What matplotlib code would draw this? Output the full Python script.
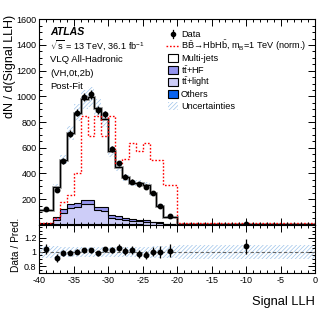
import numpy as np
import matplotlib
matplotlib.use('Agg')
import matplotlib.pyplot as plt
from matplotlib.patches import Rectangle
from matplotlib.ticker import MultipleLocator, FixedLocator

plt.rcParams['font.family'] = ['Liberation Sans', 'DejaVu Sans']
plt.rcParams['mathtext.fontset'] = 'custom'
plt.rcParams['mathtext.rm'] = 'Liberation Sans'
plt.rcParams['mathtext.it'] = 'Liberation Sans:italic'
plt.rcParams['mathtext.bf'] = 'Liberation Sans:bold'
plt.rcParams['hatch.linewidth'] = 0.5
plt.rcParams['axes.unicode_minus'] = False

# ---- data ----
bin_edges = [-40, -38, -37, -36, -35, -34, -33, -32, -31, -30, -29, -28,
             -27, -26, -25, -24, -23, -22, -20, 0]
others   = [3, 5, 6, 8, 8, 8, 8, 7, 6, 5, 4, 3, 3, 3, 2, 2, 1, 1, 0.1]
tt_light = [5, 35, 84, 121, 128, 152, 152, 108, 104, 45, 41, 32, 27, 25, 23, 16, 11, 4, 0.2]
tt_hf    = [4, 24, 31, 34, 32, 34, 34, 20, 25, 25, 23, 20, 12, 12, 13, 7, 6, 3, 0.2]
multijet = [104, 230, 387, 554, 706, 784, 801, 778, 692, 498, 383, 314, 283, 285, 272, 222, 129, 56, 4.5]
data     = [121, 270, 498, 710, 874, 998, 1015, 895, 860, 590, 478, 373, 335, 315, 298, 247, 147, 65, 5.4]
data_err = [7.9, 16.5, 22.4, 26.6, 29.7, 31.6, 31.9, 29.9, 29.3, 24.3, 21.9, 19.3, 18.3, 17.7, 17.3, 15.7, 12.1, 5.7, 0.52]
signal   = [12, 50, 175, 234, 404, 847, 691, 847, 691, 847, 482, 516, 639, 573, 639, 508, 508, 312, 12]
unc_rel  = [0.08, 0.08, 0.075, 0.075, 0.075, 0.075, 0.075, 0.075, 0.075, 0.075,
            0.075, 0.075, 0.075, 0.075, 0.075, 0.08, 0.08, 0.085, 0.1]

edges = np.array(bin_edges, dtype=float)
centers = 0.5 * (edges[:-1] + edges[1:])
c_oth = np.array(others)
c_light = c_oth + np.array(tt_light)
c_hf = c_light + np.array(tt_hf)
total = c_hf + np.array(multijet)
unc = np.array(unc_rel)
dat = np.array(data)
derr = np.array(data_err)

W, H = 332, 322
fig = plt.figure(figsize=(W / 100, H / 100), dpi=100)
x0, x1 = 39.3, 315.0
ax = fig.add_axes([x0 / W, 1 - 224.8 / H, (x1 - x0) / W, (224.8 - 19.3) / H])
rax = fig.add_axes([x0 / W, 1 - 273.3 / H, (x1 - x0) / W, (273.3 - 224.8) / H])

col_hf = '#9494ee'
col_light = '#cdcdf8'
col_oth = '#0a64f0'
hatch_col = '#9fc4ea'
sig_ls = (0, (1.2, 1.3))

# stacked histograms
ax.stairs(total, edges, baseline=0, fill=True, facecolor='white', linewidth=0)
ax.stairs(c_hf, edges, baseline=0, fill=True, facecolor=col_hf, linewidth=0)
ax.stairs(c_light, edges, baseline=0, fill=True, facecolor=col_light, linewidth=0)
ax.stairs(c_oth, edges, baseline=0, fill=True, facecolor=col_oth, linewidth=0)
for arr in (c_oth, c_light, c_hf):
    ax.stairs(arr, edges, baseline=None, color='black', linewidth=0.8)

# uncertainty band
ax.stairs(total * (1 + unc), edges, baseline=total * (1 - unc), fill=True,
          facecolor='none', edgecolor=hatch_col, hatch='////////', linewidth=0)
ax.stairs(total, edges, baseline=None, color='#808080', linewidth=2.0, alpha=0.8)
ax.stairs(total, edges, baseline=None, color='black', linewidth=0.8)

# signal
ax.stairs(signal, edges, baseline=None, color='#ff0000', linewidth=1.0,
          linestyle=sig_ls)

# data
ax.errorbar(centers, dat, yerr=derr, fmt='o', color='black', ms=3.2,
            elinewidth=0.9, capsize=0)

ax.set_xlim(-40, 0)
ax.set_ylim(0, 1600)
ax.xaxis.set_major_locator(MultipleLocator(5))
ax.xaxis.set_minor_locator(MultipleLocator(1))
ax.yaxis.set_major_locator(FixedLocator([200, 400, 600, 800, 1000, 1200, 1400, 1600]))
ax.yaxis.set_minor_locator(MultipleLocator(50))
ax.tick_params(axis='x', labelbottom=False)
ax.set_ylabel('dN / d(Signal LLH)', fontsize=9, loc='top')
ax.yaxis.set_label_coords((16 - x0) / (x1 - x0), (224.8 - 15) / (224.8 - 19.3))

# ratio panel
ratio = dat / total
rerr = derr / total
rax.stairs(1 + unc, edges, baseline=1 - unc, fill=True, facecolor='none',
           edgecolor=hatch_col, hatch='////////', linewidth=0)
rax.axhline(1, color='#666666', linestyle=(0, (3, 2)), linewidth=0.8)
rax.errorbar(centers, ratio, yerr=rerr, fmt='o', color='black', ms=3.2,
             elinewidth=0.9, capsize=0)
rax.set_xlim(-40, 0)
rax.set_ylim(0.7, 1.38)
rax.xaxis.set_major_locator(MultipleLocator(5))
rax.xaxis.set_minor_locator(MultipleLocator(1))
rax.yaxis.set_major_locator(FixedLocator([0.8, 1.0, 1.2]))
rax.yaxis.set_minor_locator(MultipleLocator(0.05))
rax.set_yticklabels(['0.8', '1', '1.2'])
rax.set_xlabel('Signal LLH', fontsize=9.3, loc='right', labelpad=8)
rax.set_ylabel('Data / Pred.', fontsize=7.3)
rax.yaxis.set_label_coords((21 - x0) / (x1 - x0), (273.3 - 245) / (273.3 - 224.8))

for a in (ax, rax):
    a.tick_params(which='both', direction='in', top=True, right=True,
                  labelsize=6.5, width=0.7, pad=2)
    a.tick_params(which='major', length=5)
    a.tick_params(which='minor', length=2.5)
    for s in a.spines.values():
        s.set_linewidth(0.8)

# overlay in pixel coordinates for text and legend
ov = fig.add_axes([0, 0, 1, 1], facecolor='none')
ov.set_xlim(0, W)
ov.set_ylim(H, 0)
ov.axis('off')

ov.text(50, 32, 'ATLAS', fontsize=7.6, fontweight='bold', fontstyle='italic', va='center')
ov.text(50, 45, r'$\sqrt{\mathrm{s}}$ = 13 TeV, 36.1 fb$^{-1}$', fontsize=6.6, va='center')
ov.text(50, 59.5, 'VLQ All-Hadronic', fontsize=6.8, va='center')
ov.text(50, 73, '(VH,0t,2b)', fontsize=6.8, va='center')
ov.text(50, 86.5, 'Post-Fit', fontsize=6.8, va='center')

# legend (manual)
leg_labels = ['Data',
              r'$\mathrm{B\bar{B}}\!\rightarrow\!\mathrm{HbH\bar{b}}$, m$_{\mathrm{B}}$=1 TeV (norm.)',
              'Multi-jets', r'$\mathrm{t\bar{t}}$+HF', r'$\mathrm{t\bar{t}}$+light', 'Others',
              'Uncertainties']
leg_y0, leg_dy = 34.0, 12.0
bx0, bw, bh = 167.5, 10.0, 7.5
tx = 181.0
for i, lab in enumerate(leg_labels):
    yy = leg_y0 + i * leg_dy
    ov.text(tx, yy, lab, fontsize=6.6, va='center', ha='left')
    if i == 0:
        ov.plot([bx0 + bw / 2] * 2, [yy - 4, yy + 4], color='black', lw=0.9)
        ov.plot([bx0 + bw / 2], [yy], 'o', color='black', ms=3.0)
    elif i == 1:
        ov.plot([bx0 - 2, bx0 + bw + 2], [yy, yy], color='#ff0000', lw=1.0, linestyle=sig_ls)
    elif i == 6:
        ov.add_patch(Rectangle((bx0, yy - bh / 2), bw, bh, facecolor='none',
                               edgecolor=hatch_col, hatch='////////', linewidth=0))
    else:
        fc = {2: 'white', 3: col_hf, 4: col_light, 5: col_oth}[i]
        ov.add_patch(Rectangle((bx0, yy - bh / 2), bw, bh, facecolor=fc,
                               edgecolor='black', linewidth=0.8))

fig.savefig('out.png', dpi=100)
